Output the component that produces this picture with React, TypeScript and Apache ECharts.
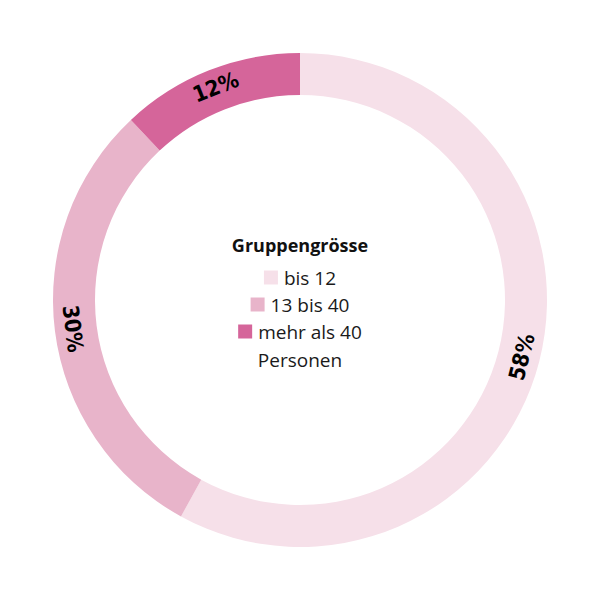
import React, { useEffect, useRef } from 'react';
import * as echarts from 'echarts';

const categories = ['bis 12', '13 bis 40', 'mehr als 40'];
const values = [58, 30, 12];
const colors = ['#f6e0e9', '#e8b4ca', '#d5659a'];
const legendTops = [268, 295, 322];
const titleText = 'Gruppengrösse';
const footText = 'Personen';

// keep the label tangent to the ring and readable
function tangentRotate(idx: number): number {
  const total = values.reduce((a, b) => a + b, 0);
  const before = values.slice(0, idx).reduce((a, b) => a + b, 0);
  const mid = 90 - (360 * (before + values[idx] / 2)) / total;
  let a = ((((mid - 90) % 360) + 540) % 360) - 180;
  if (a > 90) a -= 180;
  if (a <= -90) a += 180;
  return a;
}

export default function App() {
  const chartRef = useRef<HTMLDivElement>(null);

  useEffect(() => {
    if (!chartRef.current) return;
    const chart = echarts.init(chartRef.current, null, { renderer: 'svg' });

    const option = {
      animation: false,
      backgroundColor: '#ffffff',
      title: [
        {
          text: titleText,
          left: 'center',
          top: 231,
          textStyle: { fontFamily: 'Open Sans', fontWeight: 'bold', fontSize: 18, color: '#111' },
        },
        {
          text: footText,
          left: 'center',
          top: 345,
          textStyle: { fontFamily: 'Open Sans', fontWeight: 'normal', fontSize: 19, color: '#1a1a1a' },
        },
      ],
      legend: categories.map((c, i) => ({
        data: [c],
        left: 'center',
        top: legendTops[i],
        icon: 'rect',
        itemWidth: 14,
        itemHeight: 14,
        itemGap: 0,
        selectedMode: false,
        padding: 0,
        textStyle: { fontFamily: 'Open Sans', fontSize: 19, color: '#1a1a1a', padding: [0, 0, 0, 1] },
      })),
      series: [
        {
          type: 'pie',
          center: ['50%', '50%'],
          radius: [205, 247],
          startAngle: 90,
          clockwise: true,
          silent: true,
          avoidLabelOverlap: false,
          itemStyle: { borderWidth: 0 },
          emphasis: { disabled: true },
          label: {
            show: true,
            position: 'inside',
            formatter: '{c}%',
            fontFamily: 'DejaVu Sans Condensed, DejaVu Sans',
            fontWeight: 'bold',
            fontSize: 22,
            color: '#000',
          },
          labelLine: { show: false },
          data: categories.map((c, i) => ({
            name: c,
            value: values[i],
            itemStyle: { color: colors[i] },
            label: { rotate: tangentRotate(i) },
          })),
        },
      ],
    };

    chart.setOption(option);
    return () => {
      chart.dispose();
    };
  }, []);

  return (
    <div
      ref={chartRef}
      style={{ position: 'fixed', left: 0, top: 0, width: 600, height: 600 }}
    />
  );
}
